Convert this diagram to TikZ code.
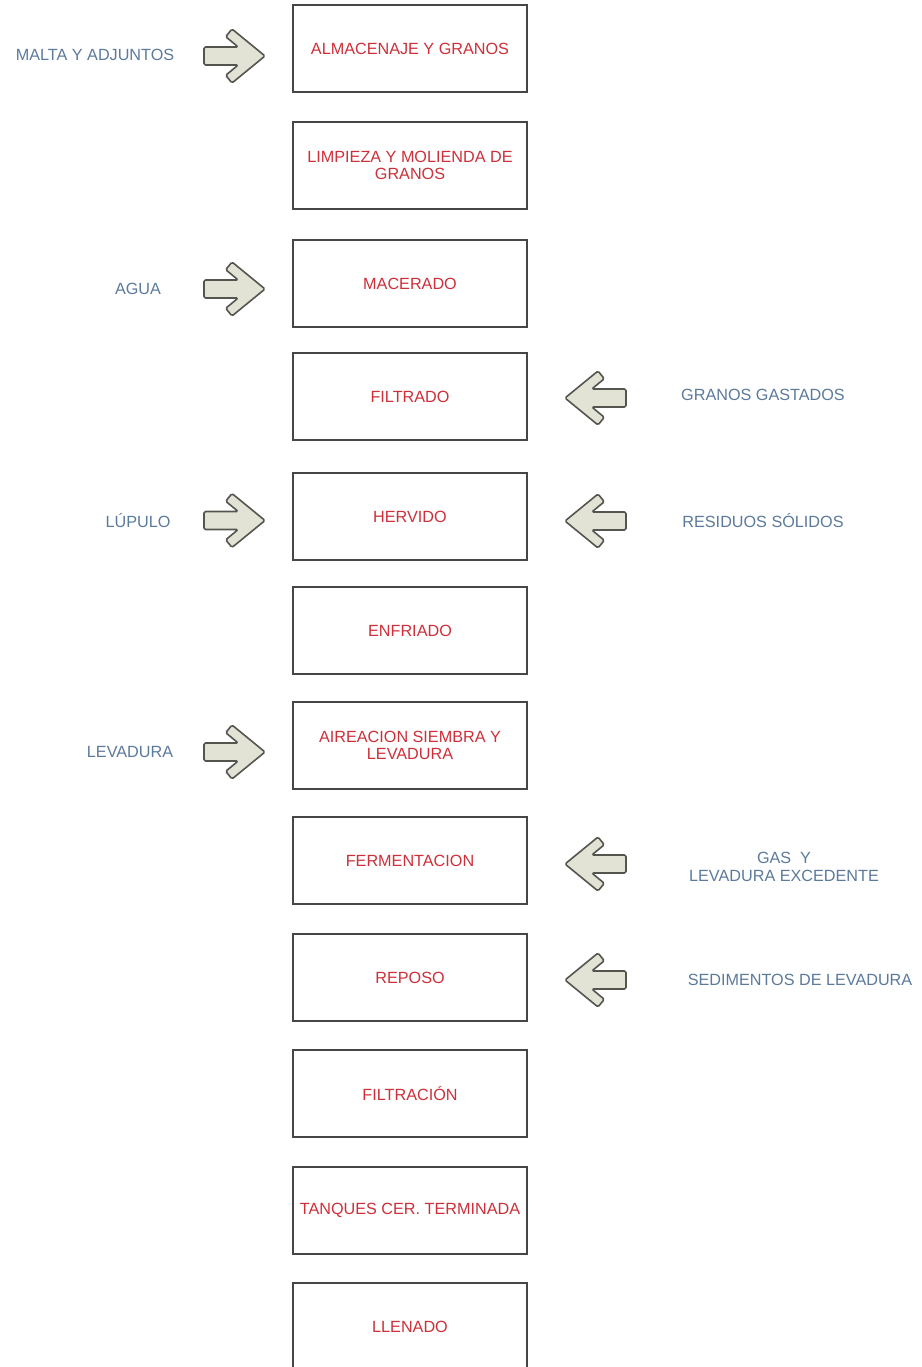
\documentclass[tikz,border=0pt]{standalone}
\usepackage{fontspec}
\setmainfont{Liberation Sans}
\definecolor{boxred}{RGB}{205,48,58}
\definecolor{lblblue}{RGB}{92,122,156}
\definecolor{arrfill}{RGB}{226,227,212}
\definecolor{arrline}{RGB}{85,85,80}
\definecolor{boxline}{RGB}{70,70,70}
\tikzset{
  stepbox/.style={draw=boxline, line width=2pt, fill=white, minimum width=234pt, minimum height=87pt,
    inner sep=1pt, align=center, text=boxred, font=\fontsize{16.2}{17.5}\selectfont},
  lbl/.style={text=lblblue, align=center, font=\fontsize{16.2}{18}\selectfont, inner sep=0pt},
  blockarrow/.style={draw=arrline, fill=arrfill, line width=1.6pt, rounded corners=1.5pt, line join=round},
  rarrow/.pic={\path[blockarrow] (-61,-9) -- (-26.8,-9) -- (-39.3,-19.3) -- (-33,-27) -- (0,0) -- (-33,27) -- (-39.3,19.3) -- (-26.8,9) -- (-61,9) -- cycle;},
  larrow/.pic={\path[blockarrow] (61,-9) -- (26.8,-9) -- (39.3,-19.3) -- (33,-27) -- (0,0) -- (33,27) -- (39.3,19.3) -- (26.8,9) -- (61,9) -- cycle;}
}
\begin{document}
\begin{tikzpicture}[x=1pt,y=-1pt]
\useasboundingbox (0,0) rectangle (921,1367);
\clip (0,0) rectangle (921,1367);
\fill[white] (0,0) rectangle (921,1367);
% boxes
\node[stepbox] (b1) at (410,48.5) {ALMACENAJE Y GRANOS};
\node[stepbox] (b2) at (410,165.5) {LIMPIEZA Y MOLIENDA DE\\GRANOS};
\node[stepbox] (b3) at (410,283.5) {MACERADO};
\node[stepbox] (b4) at (410,396.5) {FILTRADO};
\node[stepbox] (b5) at (410,516.5) {HERVIDO};
\node[stepbox] (b6) at (410,630.5) {ENFRIADO};
\node[stepbox] (b7) at (410,745.5) {AIREACION SIEMBRA Y\\LEVADURA};
\node[stepbox] (b8) at (410,860.5) {FERMENTACION};
\node[stepbox] (b9) at (410,977.5) {REPOSO};
\node[stepbox] (b10) at (410,1093.5) {FILTRACIÓN};
\node[stepbox] (b11) at (410,1210) {\kern-3pt TANQUES CER. TERMINADA\kern-3pt};
\node[stepbox] (b12) at (410,1326.5) {LLENADO};
% left inputs
\node[lbl] (l1) at (95,55) {MALTA Y ADJUNTOS};
\node[lbl] (l3) at (138,289) {AGUA};
\node[lbl] (l5) at (138,521) {LÚPULO};
\node[lbl] (l7) at (130,752) {LEVADURA};
% right outputs
\node[lbl] (r4) at (763,395) {GRANOS GASTADOS};
\node[lbl] (r5) at (763,521) {RESIDUOS SÓLIDOS};
\node[lbl] (r8) at (784,867) {GAS\ \ Y\\LEVADURA EXCEDENTE};
\node[lbl] (r9) at (800,980) {SEDIMENTOS DE LEVADURA};
% arrows into boxes
\path (b1.west) ++(-27,7.5) pic {rarrow};
\path (b3.west) ++(-27,5.5) pic {rarrow};
\path (b5.west) ++(-27,4) pic {rarrow};
\path (b7.west) ++(-27,6.5) pic {rarrow};
% arrows out of boxes (pointing left)
\path (b4.east) ++(37,1.5) pic {larrow};
\path (b5.east) ++(37,4.5) pic {larrow};
\path (b8.east) ++(37,3.5) pic {larrow};
\path (b9.east) ++(37,2.5) pic {larrow};
\end{tikzpicture}
\end{document}
